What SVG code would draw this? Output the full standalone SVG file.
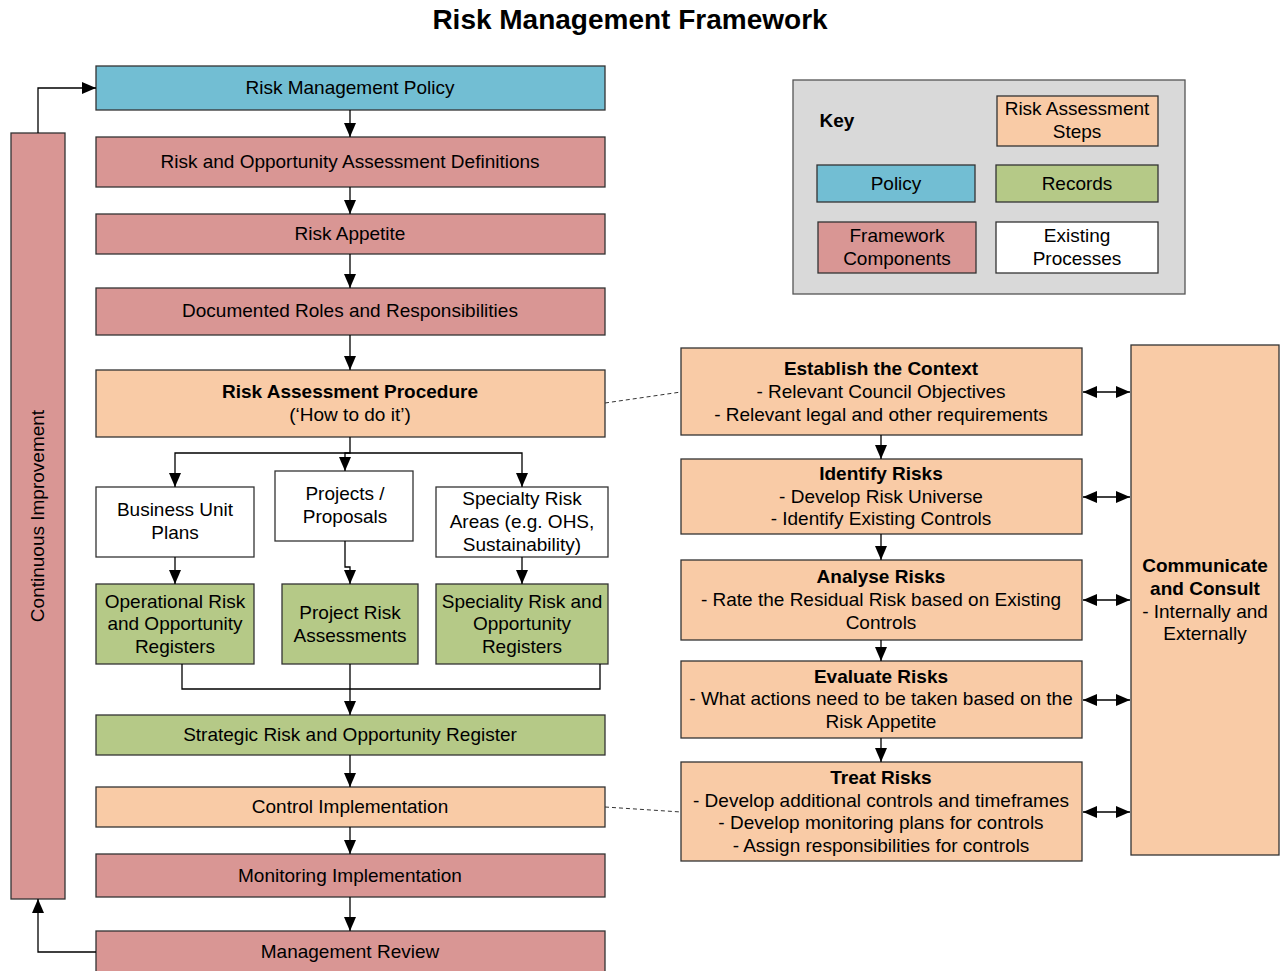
<svg xmlns="http://www.w3.org/2000/svg" width="1281" height="971" viewBox="0 0 1281 971">
<style>
text{font-family:"Liberation Sans",Arial,sans-serif;font-size:19px;fill:#000;text-anchor:middle}
.b{font-weight:bold}
.box{stroke:#333;stroke-width:1.3}
.pol{fill:#72BED3}.fw{fill:#D99694}.ra{fill:#F9CBA6}.rec{fill:#B5C987}.ex{fill:#fff}
.ln{fill:none;stroke:#000;stroke-width:1.3}
.ds{fill:none;stroke:#333;stroke-width:1;stroke-dasharray:4 3}
</style>
<defs>
<marker id="ah2" viewBox="0 0 14 12" refX="14" refY="6" markerWidth="14" markerHeight="12" markerUnits="userSpaceOnUse" orient="auto-start-reverse"><path d="M0,0 L14,6 L0,12 z" fill="#000"/></marker>
</defs>
<text class="b" x="630" y="29" style="font-size:28px">Risk Management Framework</text>

<g id="key">
<rect x="793" y="80" width="392" height="214" fill="#D9D9D9" stroke="#555" stroke-width="1.3"/>
<text class="b" x="837" y="127">Key</text>
<rect class="box ra" x="997" y="96" width="161" height="50"/>
<text x="1077" y="115">Risk Assessment</text><text x="1077" y="138">Steps</text>
<rect class="box pol" x="817" y="165" width="158" height="37"/>
<text x="896" y="190">Policy</text>
<rect class="box rec" x="996" y="165" width="162" height="37"/>
<text x="1077" y="190">Records</text>
<rect class="box fw" x="818" y="222" width="158" height="51"/>
<text x="897" y="242">Framework</text><text x="897" y="265">Components</text>
<rect class="box ex" x="996" y="222" width="162" height="51"/>
<text x="1077" y="242">Existing</text><text x="1077" y="265">Processes</text>
</g>

<g id="continuous-improvement">
<rect class="box fw" x="11" y="133" width="54" height="766"/>
<text x="0" y="0" transform="translate(44,516) rotate(-90)">Continuous Improvement</text>
</g>

<g id="policy"><rect class="box pol" x="96" y="66" width="509" height="44"/><text x="350" y="94">Risk Management Policy</text></g>
<g id="definitions"><rect class="box fw" x="96" y="137" width="509" height="50"/><text x="350" y="168">Risk and Opportunity Assessment Definitions</text></g>
<g id="appetite"><rect class="box fw" x="96" y="214" width="509" height="40"/><text x="350" y="240">Risk Appetite</text></g>
<g id="roles"><rect class="box fw" x="96" y="288" width="509" height="47"/><text x="350" y="317">Documented Roles and Responsibilities</text></g>
<g id="procedure"><rect class="box ra" x="96" y="370" width="509" height="67"/><text class="b" x="350" y="398">Risk Assessment Procedure</text><text x="350" y="421">(‘How to do it’)</text></g>

<g id="bu-plans"><rect class="box ex" x="96" y="487" width="158" height="70"/><text x="175" y="516">Business Unit</text><text x="175" y="539">Plans</text></g>
<g id="projects"><rect class="box ex" x="275" y="471" width="138" height="70"/><text x="345" y="500">Projects /</text><text x="345" y="523">Proposals</text></g>
<g id="specialty"><rect class="box ex" x="436" y="487" width="172" height="70"/><text x="522" y="505">Specialty Risk</text><text x="522" y="528">Areas (e.g. OHS,</text><text x="522" y="551">Sustainability)</text></g>

<g id="op-registers"><rect class="box rec" x="96" y="584" width="158" height="80"/><text x="175" y="608">Operational Risk</text><text x="175" y="630">and Opportunity</text><text x="175" y="653">Registers</text></g>
<g id="project-ra"><rect class="box rec" x="282" y="584" width="136" height="80"/><text x="350" y="619">Project Risk</text><text x="350" y="642">Assessments</text></g>
<g id="spec-registers"><rect class="box rec" x="436" y="584" width="172" height="80"/><text x="522" y="608">Speciality Risk and</text><text x="522" y="630">Opportunity</text><text x="522" y="653">Registers</text></g>

<g id="strategic"><rect class="box rec" x="96" y="715" width="509" height="40"/><text x="350" y="741">Strategic Risk and Opportunity Register</text></g>
<g id="control"><rect class="box ra" x="96" y="787" width="509" height="40"/><text x="350" y="813">Control Implementation</text></g>
<g id="monitoring"><rect class="box fw" x="96" y="854" width="509" height="43"/><text x="350" y="882">Monitoring Implementation</text></g>
<g id="review"><rect class="box fw" x="96" y="931" width="509" height="45"/><text x="350" y="958">Management Review</text></g>

<g id="establish"><rect class="box ra" x="681" y="348" width="401" height="87"/><text class="b" x="881" y="375">Establish the Context</text><text x="881" y="398">- Relevant Council Objectives</text><text x="881" y="421">- Relevant legal and other requirements</text></g>
<g id="identify"><rect class="box ra" x="681" y="459" width="401" height="75"/><text class="b" x="881" y="480">Identify Risks</text><text x="881" y="503">- Develop Risk Universe</text><text x="881" y="525">- Identify Existing Controls</text></g>
<g id="analyse"><rect class="box ra" x="681" y="560" width="401" height="80"/><text class="b" x="881" y="583">Analyse Risks</text><text x="881" y="606">- Rate the Residual Risk based on Existing</text><text x="881" y="629">Controls</text></g>
<g id="evaluate"><rect class="box ra" x="681" y="661" width="401" height="77"/><text class="b" x="881" y="683">Evaluate Risks</text><text x="881" y="705">- What actions need to be taken based on the</text><text x="881" y="728">Risk Appetite</text></g>
<g id="treat"><rect class="box ra" x="681" y="762" width="401" height="99"/><text class="b" x="881" y="784">Treat Risks</text><text x="881" y="807">- Develop additional controls and timeframes</text><text x="881" y="829">- Develop monitoring plans for controls</text><text x="881" y="852">- Assign responsibilities for controls</text></g>
<g id="communicate"><rect class="box ra" x="1131" y="345" width="148" height="510"/><text class="b" x="1205" y="572">Communicate</text><text class="b" x="1205" y="595">and Consult</text><text x="1205" y="618">- Internally and</text><text x="1205" y="640">Externally</text></g>

<g id="connectors">
<path class="ln" d="M38,133 V88 H96" marker-end="url(#ah2)"/>
<path class="ln" d="M96,952 H38 V899" marker-end="url(#ah2)"/>
<path class="ln" d="M350,110 V137" marker-end="url(#ah2)"/>
<path class="ln" d="M350,187 V214" marker-end="url(#ah2)"/>
<path class="ln" d="M350,254 V288" marker-end="url(#ah2)"/>
<path class="ln" d="M350,335 V370" marker-end="url(#ah2)"/>
<path class="ln" d="M350,437 V453 H345 V471" marker-end="url(#ah2)"/>
<path class="ln" d="M345,453 H175 V487" marker-end="url(#ah2)"/>
<path class="ln" d="M345,453 H522 V487" marker-end="url(#ah2)"/>
<path class="ln" d="M175,557 V584" marker-end="url(#ah2)"/>
<path class="ln" d="M345,541 V567 H350 V584" marker-end="url(#ah2)"/>
<path class="ln" d="M522,557 V584" marker-end="url(#ah2)"/>
<path class="ln" d="M182,664 V689 H600 V664" stroke="#444"/>
<path class="ln" d="M350,664 V715" marker-end="url(#ah2)"/>
<path class="ln" d="M350,755 V787" marker-end="url(#ah2)"/>
<path class="ln" d="M350,827 V854" marker-end="url(#ah2)"/>
<path class="ln" d="M350,897 V931" marker-end="url(#ah2)"/>
<path class="ln" d="M881,435 V459" marker-end="url(#ah2)"/>
<path class="ln" d="M881,534 V560" marker-end="url(#ah2)"/>
<path class="ln" d="M881,640 V661" marker-end="url(#ah2)"/>
<path class="ln" d="M881,738 V762" marker-end="url(#ah2)"/>
<path class="ln" d="M1083,392 H1130" marker-start="url(#ah2)" marker-end="url(#ah2)"/>
<path class="ln" d="M1083,497 H1130" marker-start="url(#ah2)" marker-end="url(#ah2)"/>
<path class="ln" d="M1083,600 H1130" marker-start="url(#ah2)" marker-end="url(#ah2)"/>
<path class="ln" d="M1083,700 H1130" marker-start="url(#ah2)" marker-end="url(#ah2)"/>
<path class="ln" d="M1083,812 H1130" marker-start="url(#ah2)" marker-end="url(#ah2)"/>
<path class="ds" d="M605,403 L681,392"/>
<path class="ds" d="M605,807 L681,812"/>
</g>
</svg>
